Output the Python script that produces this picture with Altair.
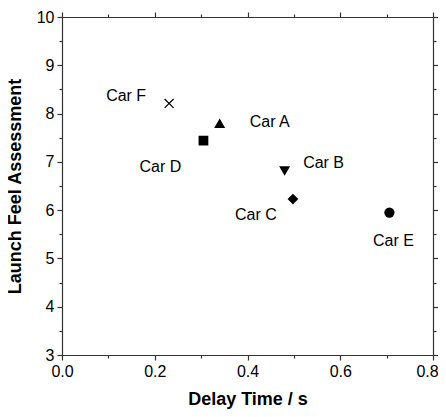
import altair as alt
import pandas as pd

cars = ["Car A", "Car B", "Car C", "Car D", "Car E", "Car F"]
delay = [0.340, 0.480, 0.498, 0.305, 0.706, 0.231]
feel = [7.80, 6.81, 6.23, 7.44, 5.95, 8.21]
shapes = ["triangle-up", "triangle-down", "diamond", "square", "circle", "M-1,-1L1,1M-1,1L1,-1"]

x_all = [0.0, 0.1, 0.2, 0.3, 0.4, 0.5, 0.6, 0.7, 0.8]
y_all = [3, 3.5, 4, 4.5, 5, 5.5, 6, 6.5, 7, 7.5, 8, 8.5, 9, 9.5, 10]

df = pd.DataFrame({"car": cars, "delay": delay, "feel": feel, "shape": shapes})

# styling: label offsets (pixels) and marker sizes
offsets = {
    "Car A": (50, -1),
    "Car B": (39, -8),
    "Car C": (-37, 16),
    "Car D": (-43, 26),
    "Car E": (4, 28),
    "Car F": (-43, -7),
}
marker_size = {"Car A": 121, "Car B": 121, "Car C": 115, "Car D": 95, "Car E": 105, "Car F": 80}

FONT = "Liberation Sans"
AX_COLOR = "#333333"

xscale = alt.Scale(domain=[0, 0.8], nice=False, zero=False)
yscale = alt.Scale(domain=[3, 10], nice=False, zero=False)

major_x_test = "abs(datum.value*10 - 2*round(datum.value*5)) < 0.01"
major_y_test = "abs(datum.value - round(datum.value)) < 0.01"

def make_axis(orient, values, test, fmt, labels, title, title_pad, label_offset=None):
    kw = dict(
        orient=orient, values=values, labels=labels,
        tickSize={"condition": {"test": test, "value": 5}, "value": 3},
        grid=False, domainColor=AX_COLOR, tickColor=AX_COLOR, domainWidth=1.2, tickWidth=1.2,
        labelFont=FONT, labelFontSize=16, labelColor="black", labelPadding=3,
        titleFont=FONT, titleFontSize=18, titleFontWeight="bold", titleColor="black",
        titlePadding=title_pad, labelFlush=False, labelOverlap=False,
    )
    if label_offset is not None:
        kw["labelOffset"] = label_offset
    if labels:
        kw["labelExpr"] = f"({test}) ? format(datum.value, '{fmt}') : ''"
        kw["title"] = title
    else:
        kw["title"] = ""
    return alt.Axis(**kw)

base = alt.Chart(df)

layers = []
for i, car in enumerate(cars):
    is_cross = car == "Car F"
    if i == 0:
        xa = make_axis("bottom", x_all, major_x_test, ".1f", True, "Delay Time / s", 11,
                       label_offset={"condition": {"test": "datum.value > 0.75", "value": -6}, "value": 0})
        ya = make_axis("left", y_all, major_y_test, "d", True, "Launch Feel Assessment", 12)
    elif i == 1:
        xa = make_axis("top", x_all, major_x_test, ".1f", False, None, 0)
        ya = make_axis("right", y_all, major_y_test, "d", False, None, 0)
    else:
        xa = None
        ya = None
    layers.append(
        base.transform_filter(alt.datum.car == car).mark_point(
            filled=not is_cross, size=marker_size[car], color="black", opacity=1,
            strokeWidth=1.2 if is_cross else 0,
        ).encode(
            x=alt.X("delay:Q", scale=xscale, axis=xa),
            y=alt.Y("feel:Q", scale=yscale, axis=ya),
            shape=alt.Shape("shape:N", scale=None, legend=None),
        )
    )

for car in cars:
    dx, dy = offsets[car]
    layers.append(
        base.transform_filter(alt.datum.car == car).mark_text(
            dx=dx, dy=dy, font=FONT, fontSize=16, color="black", align="center", baseline="middle"
        ).encode(
            x=alt.X("delay:Q", scale=xscale, axis=None),
            y=alt.Y("feel:Q", scale=yscale, axis=None),
            text="car:N",
        )
    )

chart = alt.layer(*layers).resolve_axis(
    x="independent", y="independent"
).properties(
    width=371, height=338,
    autosize=alt.AutoSizeParams(type="none"),
    padding={"left": 54, "top": 9, "right": 5, "bottom": 54},
).configure_view(stroke=None).configure(background="white")

chart.save("out.html", embed_options={"renderer": "svg", "actions": False})
